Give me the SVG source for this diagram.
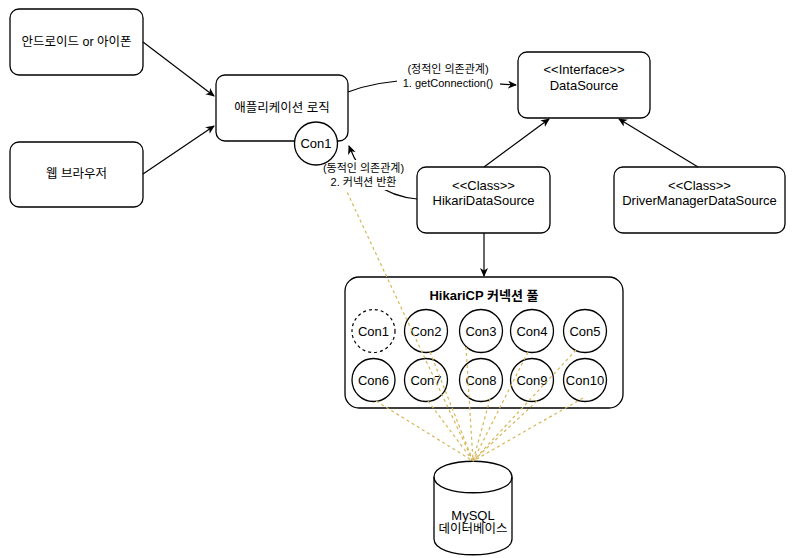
<svg xmlns="http://www.w3.org/2000/svg" width="800" height="558" viewBox="0 0 800 558">
<style>
.box{fill:#fff;stroke:#000;stroke-width:1.3}
.t{font-family:"Liberation Sans","Noto Sans CJK KR",sans-serif;font-size:13px;fill:#000;text-anchor:middle;dominant-baseline:central}
.k{font-size:12.5px}
.lbl{font-size:11px}
.edge{fill:none;stroke:#000;stroke-width:1.2}
.db{fill:none;stroke:#d6b656;stroke-width:1.2;stroke-dasharray:3 3}
</style>
<defs>
<marker id="arr" markerWidth="10" markerHeight="10" refX="8" refY="4" orient="auto" markerUnits="userSpaceOnUse">
<path d="M0,0 L9,4 L0,8 L2.5,4 Z" fill="#000"/>
</marker>
</defs>
<rect width="800" height="558" fill="#fff"/>

<g id="android"><rect class="box" x="10" y="9" width="133" height="66" rx="9"/><text class="t k" x="76.5" y="42">안드로이드 or 아이폰</text></g>
<g id="web"><rect class="box" x="10" y="142" width="133" height="65" rx="9"/><text class="t k" x="76.5" y="174">웹 브라우저</text></g>
<g id="app"><rect class="box" x="216" y="75" width="132" height="66" rx="9"/><text class="t k" x="282" y="108">애플리케이션 로직</text></g>
<g id="datasource"><rect class="box" x="518" y="52" width="132" height="66" rx="9"/><text class="t" x="584" y="69">&lt;&lt;Interface&gt;&gt;</text><text class="t" x="584" y="85">DataSource</text></g>
<g id="hikari"><rect class="box" x="417" y="167" width="133" height="66" rx="9"/><text class="t" x="483.5" y="185">&lt;&lt;Class&gt;&gt;</text><text class="t" x="483.5" y="200">HikariDataSource</text></g>
<g id="driver"><rect class="box" x="614" y="167" width="171" height="66" rx="9"/><text class="t" x="699.5" y="185">&lt;&lt;Class&gt;&gt;</text><text class="t" x="699.5" y="200">DriverManagerDataSource</text></g>
<g id="pool"><rect class="box" x="345" y="277" width="278" height="131" rx="14"/><text class="t" x="484" y="295" font-weight="bold">HikariCP 커넥션 풀</text></g>
<g id="pool-con1"><circle cx="373.5" cy="331" r="21.5" fill="#fff" stroke="#000" stroke-width="1.2" stroke-dasharray="3 3"/><text class="t" x="373.5" y="331">Con1</text></g>
<g id="con2"><circle class="box" cx="426" cy="331" r="21.5"/><text class="t" x="426" y="331">Con2</text></g>
<g id="con3"><circle class="box" cx="481" cy="331" r="21.5"/><text class="t" x="481" y="331">Con3</text></g>
<g id="con4"><circle class="box" cx="532" cy="331" r="21.5"/><text class="t" x="532" y="331">Con4</text></g>
<g id="con5"><circle class="box" cx="585" cy="331" r="21.5"/><text class="t" x="585" y="331">Con5</text></g>
<g id="con6"><circle class="box" cx="373.5" cy="380" r="21.5"/><text class="t" x="373.5" y="380">Con6</text></g>
<g id="con7"><circle class="box" cx="426" cy="380" r="21.5"/><text class="t" x="426" y="380">Con7</text></g>
<g id="con8"><circle class="box" cx="481" cy="380" r="21.5"/><text class="t" x="481" y="380">Con8</text></g>
<g id="con9"><circle class="box" cx="532" cy="380" r="21.5"/><text class="t" x="532" y="380">Con9</text></g>
<g id="con10"><circle class="box" cx="585" cy="380" r="21.5"/><text class="t" x="585" y="380">Con10</text></g>
<g id="mysql">
<path class="box" d="M434,477 C434,456 512,456 512,477 L512,539 C512,560 434,560 434,539 Z"/>
<path fill="none" stroke="#000" stroke-width="1.3" d="M434,477 C434,498 512,498 512,477"/>
<text class="t" x="473" y="515">MySQL</text><text class="t k" x="473" y="529">데이터베이스</text>
</g>

<g id="connectors">
<path class="edge" marker-end="url(#arr)" d="M143,42 L214,96"/>
<path class="edge" marker-end="url(#arr)" d="M143,174 L214,126"/>
<path class="edge" marker-end="url(#arr)" d="M348,92 C400,72 460,82 516,85"/>
<path class="edge" marker-end="url(#arr)" d="M484,167 L549,119"/>
<path class="edge" marker-end="url(#arr)" d="M698,167 L619,119"/>
<path class="edge" marker-end="url(#arr)" d="M484,233 L484,276"/>
<path class="edge" marker-end="url(#arr)" d="M417,199 C385,196 362,180 349,146"/>
<g>
<path class="db" d="M332,160 L473,461"/>
<path class="db" d="M430,352 L473,461"/>
<path class="db" d="M466,347 L473,461"/>
<path class="db" d="M528,352 L473,461"/>
<path class="db" d="M576,350 L473,461"/>
<path class="db" d="M376,401 L473,461"/>
<path class="db" d="M428,401 L473,461"/>
<path class="db" d="M490,399 L473,461"/>
<path class="db" d="M537,401 L473,461"/>
<path class="db" d="M583,398 L473,461"/>
</g>
<g id="label1"><rect x="397" y="61" width="103" height="29" fill="#fff"/><text class="t lbl" x="448" y="69">(정적인 의존관계)</text><text class="t lbl" x="448" y="83">1. getConnection()</text></g>
<g id="label2"><rect x="322" y="160" width="84" height="30" fill="#fff"/><text class="t lbl" x="363.5" y="168">(동적인 의존관계)</text><text class="t lbl" x="363.5" y="182">2. 커넥션 반환</text></g>
</g>
<g id="app-con1"><circle class="box" cx="316" cy="143.5" r="21.5"/><text class="t" x="316" y="143.5">Con1</text></g>
</svg>
